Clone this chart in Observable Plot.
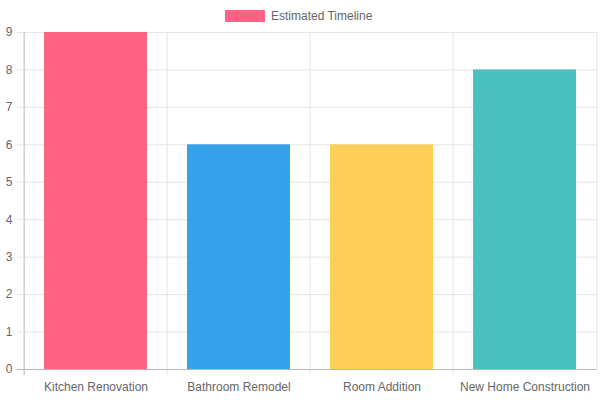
<!DOCTYPE html>
<html>
<head>
<meta charset="utf-8">
<script src="https://cdn.jsdelivr.net/npm/d3@7"></script>
<script src="https://cdn.jsdelivr.net/npm/@observablehq/plot@0.6"></script>
<style>
  html, body { margin: 0; padding: 0; background: #fff; }
  #wrap { position: relative; width: 600px; height: 400px; font-family: "Liberation Sans", Arial, Helvetica, sans-serif; }
  #legend { position: absolute; left: 225px; top: 10px; height: 12px; display: flex; align-items: center; font-size: 12px; color: #666; }
  #legend .sw { width: 40px; height: 12px; margin-right: 6px; }
  #chart { position: absolute; left: 0; top: 0; }
</style>
</head>
<body>
<div id="wrap">
  <div id="chart"></div>
  <div id="legend"></div>
</div>
<script>
const categories = ["Kitchen Renovation", "Bathroom Remodel", "Room Addition", "New Home Construction"];
const values = [9, 6, 6, 8];
const colors = ["#FF6384", "#36A2EB", "#FFCE56", "#4BC0C0"];
const seriesName = "Estimated Timeline";
const yTicks = [0, 1, 2, 3, 4, 5, 6, 7, 8, 9];

const data = categories.map((c, i) => ({category: c, value: values[i], color: colors[i]}));

const W = 600, H = 400;
const mL = 22, mR = 3, mT = 32, mB = 31;
const step = (W - mL - mR) / categories.length;

const grid = "#e5e5e5";
const axisColor = "#b8b8b8";

const plot = Plot.plot({
  width: W,
  height: H,
  marginLeft: mL,
  marginRight: mR,
  marginTop: mT,
  marginBottom: mB,
  style: {fontFamily: '"Liberation Sans", Arial, Helvetica, sans-serif', fontSize: "12px", color: "#666", background: "transparent"},
  x: {domain: categories, paddingInner: 0.28, paddingOuter: 0.14, label: null},
  y: {domain: [0, 9], label: null},
  marks: [
    Plot.ruleY(yTicks, {stroke: grid, insetLeft: -5, strokeWidth: 1}),
    Plot.ruleX(categories.slice(1), {stroke: grid, dx: -step / 2, insetBottom: -6}),
    Plot.ruleX(categories.slice(-1), {stroke: grid, dx: step / 2}),
    Plot.barY(data, {x: "category", y: "value", fill: "color"}),
    Plot.ruleX(categories.slice(0, 1), {stroke: axisColor, dx: -step / 2, insetBottom: -6}),
    Plot.ruleY([0], {stroke: axisColor, insetLeft: -5}),
    Plot.axisY({ticks: yTicks, tickSize: 0, tickPadding: 10, fill: "#666", fontSize: 12}),
    Plot.axisX({tickSize: 0, tickPadding: 13, fill: "#666", fontSize: 12})
  ]
});
document.getElementById("chart").appendChild(plot);

const legend = document.getElementById("legend");
const sw = document.createElement("div");
sw.className = "sw";
sw.style.background = colors[0];
legend.appendChild(sw);
const lab = document.createElement("span");
lab.textContent = seriesName;
legend.appendChild(lab);
</script>
</body>
</html>
